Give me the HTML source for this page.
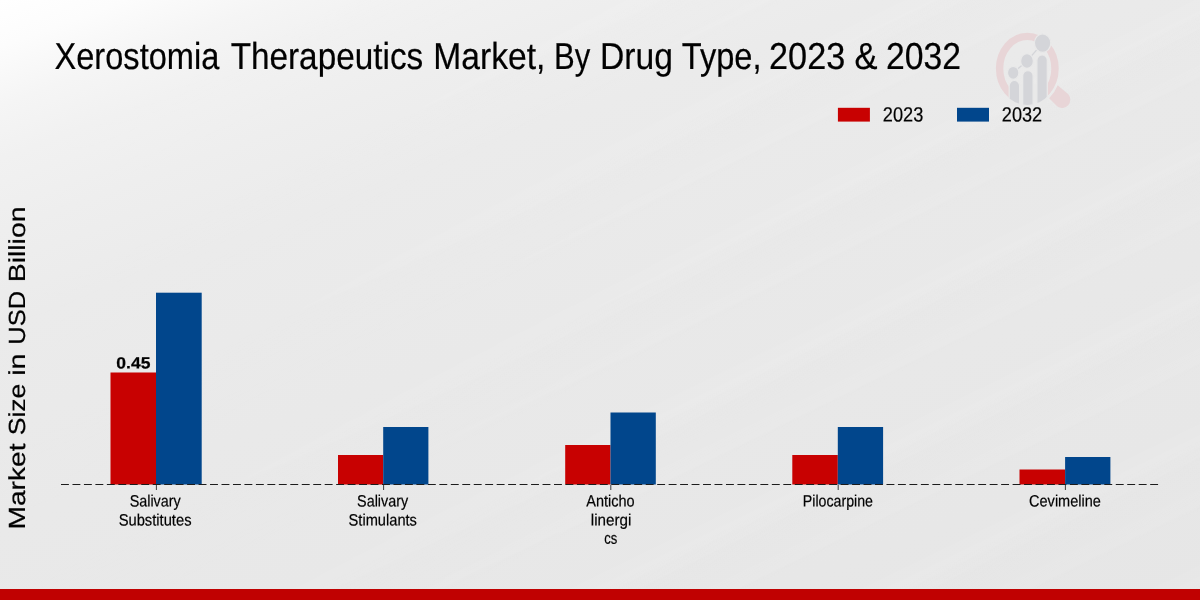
<!DOCTYPE html>
<html>
<head>
<meta charset="utf-8">
<title>Xerostomia Therapeutics Market, By Drug Type, 2023 &amp; 2032</title>
<style>
html,body{margin:0;padding:0;width:1200px;height:600px;overflow:hidden;background:#e8e8e8;}
body{font-family:"Liberation Sans",sans-serif;}
svg{display:block;position:absolute;left:0;top:0;}
text{font-family:"Liberation Sans",sans-serif;fill:#000;stroke:#000;stroke-width:0.22px;text-rendering:geometricPrecision;}
</style>
</head>
<body>
<svg width="1200" height="600" viewBox="0 0 1200 600">
  <defs>
    <linearGradient id="bg" gradientUnits="userSpaceOnUse" x1="0" y1="0" x2="344" y2="925">
      <stop offset="0" stop-color="#ffffff"/>
      <stop offset="0.045" stop-color="#fcfcfc"/>
      <stop offset="0.10" stop-color="#f5f5f5"/>
      <stop offset="0.15" stop-color="#f1f1f1"/>
      <stop offset="0.22" stop-color="#eeeeee"/>
      <stop offset="0.31" stop-color="#ebebeb"/>
      <stop offset="0.50" stop-color="#e9e9e9"/>
      <stop offset="1" stop-color="#e6e6e6"/>
    </linearGradient>
    <linearGradient id="stk" x1="0" y1="0" x2="0" y2="1">
      <stop offset="0" stop-color="#fff" stop-opacity="0"/>
      <stop offset="0.2" stop-color="#fff" stop-opacity="0.10"/>
      <stop offset="0.4" stop-color="#fff" stop-opacity="0"/>
      <stop offset="0.62" stop-color="#fff" stop-opacity="0.06"/>
      <stop offset="0.75" stop-color="#fff" stop-opacity="0"/>
      <stop offset="1" stop-color="#fff" stop-opacity="0"/>
    </linearGradient>
    <pattern id="streaks" patternUnits="userSpaceOnUse" width="400" height="128" patternTransform="rotate(-26)">
      <rect x="0" y="0" width="400" height="128" fill="url(#stk)"/>
    </pattern>
    <linearGradient id="stkfade" gradientUnits="userSpaceOnUse" x1="100" y1="0" x2="700" y2="200">
      <stop offset="0" stop-color="#000"/>
      <stop offset="1" stop-color="#fff"/>
    </linearGradient>
    <mask id="stkmask"><rect x="0" y="0" width="1200" height="600" fill="url(#stkfade)"/></mask>
    <clipPath id="lens"><ellipse cx="1027.3" cy="68.6" rx="31.5" ry="36.4"/></clipPath>
  </defs>
  <rect x="0" y="0" width="1200" height="600" fill="url(#bg)"/>
  <rect x="0" y="0" width="1200" height="589" fill="url(#streaks)" mask="url(#stkmask)"/>
  <g opacity="0.999">

  <!-- watermark logo -->
  <g id="logo">
    <path d="M1057.7 85.2 L1068.3 94.3 A8.3 8.3 0 0 1 1057.4 106.6 L1049.2 98.2 Q1054.8 92.6 1057.7 85.2 Z" fill="#e8d5d7"/>
    <ellipse cx="1027.3" cy="68.6" rx="27.7" ry="32.2" fill="none" stroke="#e8d5d7" stroke-width="7.4"/>
    <rect x="1010" y="84" width="36.8" height="22" fill="#e9e9e9"/>
    <g clip-path="url(#lens)">
      <g fill="#d4d5d9" stroke="#e9e9e9" stroke-width="1.2">
        <path d="M1009.2 110 V85.7 a5.2 5.2 0 0 1 10.4 0 V110 Z"/>
        <path d="M1022.7 110 V75.8 a5.2 5.2 0 0 1 10.4 0 V110 Z"/>
        <path d="M1036.9 110 V60.2 a5.2 5.2 0 0 1 10.4 0 V110 Z"/>
      </g>
    </g>
    <path d="M1013.2 72.8 L1027 61 L1042.6 43.1" stroke="#d4d5d9" stroke-width="1.3" fill="none"/>
    <g fill="#d4d5d9" stroke="#e9e9e9" stroke-width="1.2">
      <ellipse cx="1013.2" cy="72.8" rx="5.7" ry="6.5"/>
      <ellipse cx="1027" cy="61" rx="6.4" ry="7.3"/>
      <ellipse cx="1042.6" cy="43.1" rx="8.2" ry="9.3"/>
    </g>
  </g>

  <!-- title -->
  <text y="69" font-size="37.5" id="title"><tspan x="54.46" textLength="164.93" lengthAdjust="spacingAndGlyphs">Xerostomia</tspan> <tspan x="230.63" textLength="192.58" lengthAdjust="spacingAndGlyphs">Therapeutics</tspan> <tspan x="433.26" textLength="112.10" lengthAdjust="spacingAndGlyphs">Market,</tspan> <tspan x="553.90" textLength="36.29" lengthAdjust="spacingAndGlyphs">By</tspan> <tspan x="599.97" textLength="72.95" lengthAdjust="spacingAndGlyphs">Drug</tspan> <tspan x="681.85" textLength="79.71" lengthAdjust="spacingAndGlyphs">Type,</tspan> <tspan x="769.08" textLength="76.15" lengthAdjust="spacingAndGlyphs">2023</tspan> <tspan x="854.47" textLength="23.03" lengthAdjust="spacingAndGlyphs">&amp;</tspan> <tspan x="886.03" textLength="74.99" lengthAdjust="spacingAndGlyphs">2032</tspan></text>

  <!-- legend -->
  <rect x="837.9" y="107.8" width="32" height="13.8" fill="#c80000"/>
  <g transform="rotate(0.04 903.0 121.40)"><text x="882.83" y="121.40" font-size="20.6" textLength="40.43" lengthAdjust="spacingAndGlyphs">2023</text></g>
  <rect x="957" y="107.8" width="32" height="13.8" fill="#00468c"/>
  <g transform="rotate(0.04 1022.0 121.40)"><text x="1001.84" y="121.40" font-size="20.6" textLength="40.26" lengthAdjust="spacingAndGlyphs">2032</text></g>

  <!-- y label -->
  <g transform="translate(0,600) rotate(-90)">
  <text y="25" font-size="23.3" id="ylabel"><tspan x="70.41" textLength="86.20" lengthAdjust="spacingAndGlyphs">Market</tspan> <tspan x="164.67" textLength="51.77" lengthAdjust="spacingAndGlyphs">Size</tspan> <tspan x="224.23" textLength="22.36" lengthAdjust="spacingAndGlyphs">in</tspan> <tspan x="255.27" textLength="53.77" lengthAdjust="spacingAndGlyphs">USD</tspan> <tspan x="317.65" textLength="76.00" lengthAdjust="spacingAndGlyphs">Billion</tspan></text>
  </g>

  <!-- bars -->
  <g id="bars">
    <rect x="110.5" y="372.5" width="45.5" height="112" fill="#c80000"/>
    <rect x="156" y="292.7" width="45.7" height="191.8" fill="#00468c"/>
    <rect x="338" y="455" width="45.2" height="29.5" fill="#c80000"/>
    <rect x="383.2" y="427" width="45.2" height="57.5" fill="#00468c"/>
    <rect x="565.2" y="445" width="45.3" height="39.5" fill="#c80000"/>
    <rect x="610.5" y="412.5" width="45.3" height="72" fill="#00468c"/>
    <rect x="792.3" y="455" width="45.5" height="29.5" fill="#c80000"/>
    <rect x="837.8" y="427" width="45.3" height="57.5" fill="#00468c"/>
    <rect x="1019.5" y="469.5" width="45.6" height="15" fill="#c80000"/>
    <rect x="1065.1" y="457" width="45.3" height="27.5" fill="#00468c"/>
  </g>

  <!-- value label -->
  <g transform="rotate(0.04 133.4 368.50)"><text x="116.39" y="368.50" font-size="16.3" textLength="34.05" lengthAdjust="spacingAndGlyphs" font-weight="bold">0.45</text></g>

  <!-- baseline -->
  <line x1="61" y1="484.5" x2="1158.6" y2="484.5" stroke="#1c1c1c" stroke-width="1.05" stroke-dasharray="7.9 3.565"/>
  <g stroke="#2a2a2a" stroke-width="0.9">
    <line x1="156.4" y1="485" x2="156.4" y2="490"/>
    <line x1="383.6" y1="485" x2="383.6" y2="490"/>
    <line x1="610.8" y1="485" x2="610.8" y2="490"/>
    <line x1="838.2" y1="485" x2="838.2" y2="490"/>
    <line x1="1065.4" y1="485" x2="1065.4" y2="490"/>
  </g>

  <!-- x tick labels -->
  <g id="xt">
    <g transform="rotate(0.04 155.2 506.50)"><text x="129.68" y="506.50" font-size="16.4" textLength="50.98" lengthAdjust="spacingAndGlyphs">Salivary</text></g>
    <g transform="rotate(0.04 155.1 525.45)"><text x="118.65" y="525.45" font-size="16.4" textLength="72.88" lengthAdjust="spacingAndGlyphs">Substitutes</text></g>
    <g transform="rotate(0.04 382.6 506.50)"><text x="357.12" y="506.50" font-size="16.4" textLength="51.01" lengthAdjust="spacingAndGlyphs">Salivary</text></g>
    <g transform="rotate(0.04 382.8 525.45)"><text x="348.62" y="525.45" font-size="16.4" textLength="68.30" lengthAdjust="spacingAndGlyphs">Stimulants</text></g>
    <g transform="rotate(0.04 610.5 506.50)"><text x="586.28" y="506.50" font-size="16.4" textLength="48.38" lengthAdjust="spacingAndGlyphs">Anticho</text></g>
    <g transform="rotate(0.04 611.1 525.45)"><text x="590.79" y="525.45" font-size="16.4" textLength="40.57" lengthAdjust="spacingAndGlyphs">linergi</text></g>
    <g transform="rotate(0.04 610.8 543.80)"><text x="604.29" y="543.80" font-size="16.4" textLength="13.05" lengthAdjust="spacingAndGlyphs">cs</text></g>
    <g transform="rotate(0.04 837.9 506.50)"><text x="802.84" y="506.50" font-size="16.4" textLength="70.17" lengthAdjust="spacingAndGlyphs">Pilocarpine</text></g>
    <g transform="rotate(0.04 1065.0 506.50)"><text x="1029.07" y="506.50" font-size="16.4" textLength="71.81" lengthAdjust="spacingAndGlyphs">Cevimeline</text></g>
  </g>

  <!-- bottom stripe -->
  <rect x="0" y="589" width="1200" height="11" fill="#c00000"/>
  </g>
</svg>
</body>
</html>
